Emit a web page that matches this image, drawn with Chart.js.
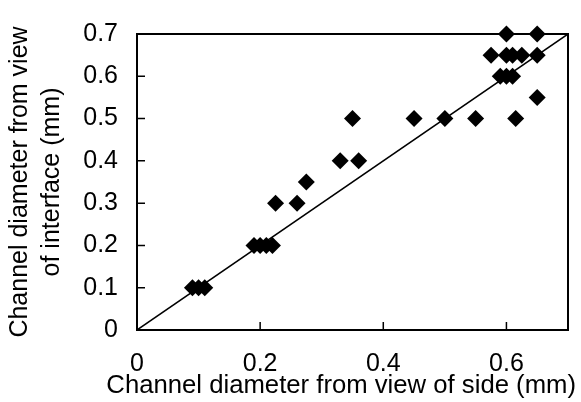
<!DOCTYPE html>
<html>
<head>
<meta charset="utf-8">
<script src="https://cdn.jsdelivr.net/npm/chart.js@4/dist/chart.umd.min.js"></script>
<style>
  html, body { margin: 0; padding: 0; background: #fff; }
  #wrap { width: 581px; height: 402px; }
</style>
</head>
<body>
<div id="wrap"><canvas id="c" width="581" height="402"></canvas></div>
<script>
// ---- data ----
const sideDiameter = [0.09, 0.10, 0.11,
  0.19, 0.20, 0.21, 0.22,
  0.225, 0.26, 0.275,
  0.33, 0.36,
  0.35, 0.45, 0.50, 0.55, 0.615,
  0.65,
  0.59, 0.60, 0.61,
  0.575, 0.60, 0.61, 0.625, 0.65,
  0.60, 0.65];
const interfaceDiameter = [0.1, 0.1, 0.1,
  0.2, 0.2, 0.2, 0.2,
  0.3, 0.3, 0.35,
  0.4, 0.4,
  0.5, 0.5, 0.5, 0.5, 0.5,
  0.55,
  0.6, 0.6, 0.6,
  0.65, 0.65, 0.65, 0.65, 0.65,
  0.7, 0.7];
const lineX = [0, 0.7];
const lineY = [0, 0.7];
const xTickValues = [0, 0.2, 0.4, 0.6];
const xTickLabels = ['0', '0.2', '0.4', '0.6'];
const yTickValues = [0, 0.1, 0.2, 0.3, 0.4, 0.5, 0.6, 0.7];
const yTickLabels = ['0', '0.1', '0.2', '0.3', '0.4', '0.5', '0.6', '0.7'];
const xTitle = 'Channel diameter from view of side (mm)';
const yTitle = ['Channel diameter from view', 'of interface (mm)'];

const FONT = "Arial, 'Liberation Sans', Helvetica, sans-serif";
const X_TITLE_SIZE = 25.7;
const X_TITLE_LINE = 20;
const X_TITLE_PAD = { top: 1, bottom: 6 };

const frame = {
  id: 'frame',
  afterDatasetsDraw(chart) {
    const {ctx, chartArea: a, scales: {x, y}} = chart;
    ctx.save();
    ctx.strokeStyle = '#000';
    ctx.lineWidth = 2;
    ctx.strokeRect(a.left, a.top, a.right - a.left, a.bottom - a.top);
    ctx.lineWidth = 1.5;
    ctx.beginPath();
    xTickValues.forEach(v => {
      const px = x.getPixelForValue(v);
      if (px <= a.left + 1 || px >= a.right - 1) return;
      ctx.moveTo(px, a.bottom);
      ctx.lineTo(px, a.bottom - 8);
    });
    yTickValues.forEach(v => {
      const py = y.getPixelForValue(v);
      if (py <= a.top + 1 || py >= a.bottom - 1) return;
      ctx.moveTo(a.left, py);
      ctx.lineTo(a.left + 8, py);
    });
    ctx.stroke();
    ctx.restore();
  }
};

new Chart(document.getElementById('c'), {
  type: 'scatter',
  data: {
    datasets: [
      {
        type: 'line',
        data: lineX.map((v, i) => ({x: v, y: lineY[i]})),
        borderColor: '#000',
        borderWidth: 1.5,
        pointRadius: 0,
        fill: false,
        order: 2
      },
      {
        data: sideDiameter.map((v, i) => ({x: v, y: interfaceDiameter[i]})),
        pointStyle: 'rectRot',
        pointRadius: 8.5,
        pointHoverRadius: 8.5,
        backgroundColor: '#000',
        borderColor: '#000',
        borderWidth: 0,
        clip: false,
        order: 1
      }
    ]
  },
  options: {
    responsive: false,
    devicePixelRatio: 1,
    animation: false,
    events: [],
    layout: { padding: { left: 0, right: 5, top: 21, bottom: 0 } },
    plugins: {
      legend: { display: false },
      tooltip: { enabled: false },
      title: {
        display: true,
        position: 'bottom',
        align: 'end',
        text: xTitle,
        color: '#000',
        font: { family: FONT, size: X_TITLE_SIZE, weight: 'normal', lineHeight: X_TITLE_LINE + 'px' },
        padding: X_TITLE_PAD
      }
    },
    scales: {
      x: {
        type: 'linear',
        min: 0, max: 0.7,
        afterFit(s) { s.height = 72 - (X_TITLE_LINE + X_TITLE_PAD.top + X_TITLE_PAD.bottom); },
        afterBuildTicks(s) { s.ticks = xTickValues.map(v => ({value: v})); },
        grid: { display: false, drawTicks: false },
        border: { display: false },
        ticks: {
          padding: 19,
          color: '#000',
          font: { family: FONT, size: 25 },
          maxRotation: 0,
          callback: (v) => { const i = xTickValues.indexOf(v); return i >= 0 ? xTickLabels[i] : ''; }
        }
      },
      y: {
        type: 'linear',
        min: 0, max: 0.7,
        afterFit(s) { s.width = 137; },
        afterBuildTicks(s) { s.ticks = yTickValues.map(v => ({value: v})); },
        grid: { display: false, drawTicks: false },
        border: { display: false },
        ticks: {
          padding: 19,
          color: '#000',
          font: { family: FONT, size: 25 },
          callback: (v) => { const i = yTickValues.indexOf(v); return i >= 0 ? yTickLabels[i] : ''; }
        },
        title: {
          display: true,
          text: yTitle,
          color: '#000',
          font: { family: FONT, size: 25, lineHeight: 1.28 },
          padding: { top: 4, bottom: 0 }
        }
      },
      edge: {
        type: 'linear',
        position: 'right',
        display: true,
        afterFit(s) { s.width = 8; },
        grid: { display: false, drawTicks: false },
        border: { display: false },
        ticks: { display: false }
      }
    }
  },
  plugins: [frame]
});
</script>
</body>
</html>
